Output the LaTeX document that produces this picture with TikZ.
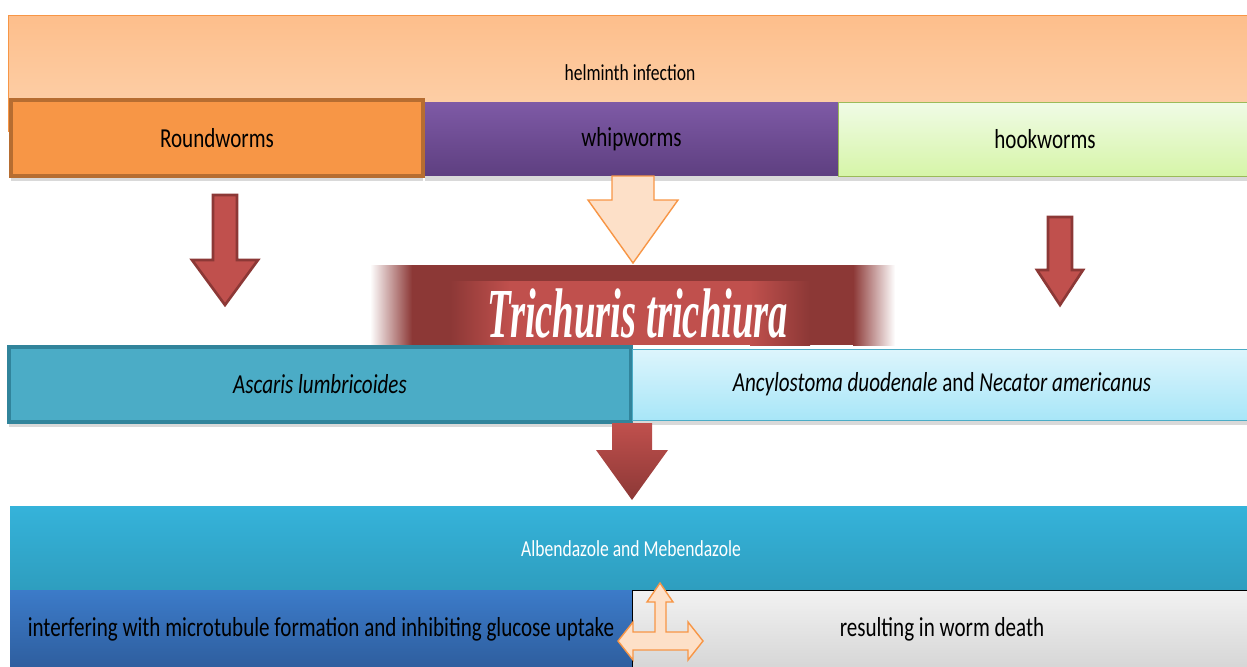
\documentclass[tikz,border=0pt]{standalone}
\usepackage{fontspec}
\setmainfont{Carlito}
\newfontfamily\trfont{Liberation Serif}
\usetikzlibrary{shadows}

\definecolor{peachTop}{HTML}{FDBE8B}
\definecolor{peachBot}{HTML}{FDD3AE}
\definecolor{orangeA}{HTML}{F79646}
\definecolor{orangeD}{HTML}{B66D31}
\definecolor{purpleTop}{HTML}{7E5AA6}
\definecolor{purpleBot}{HTML}{5E3F80}
\definecolor{greenTop}{HTML}{F0FBE6}
\definecolor{greenBot}{HTML}{D6F5A8}
\definecolor{greenD}{HTML}{9BBB59}
\definecolor{redA}{HTML}{C0504D}
\definecolor{redD}{HTML}{8C3836}
\definecolor{peachArr}{HTML}{FDE0C8}
\definecolor{aquaA}{HTML}{4BACC6}
\definecolor{aquaD}{HTML}{31849B}
\definecolor{skyTop}{HTML}{DDF5FC}
\definecolor{skyBot}{HTML}{A8E6F8}
\definecolor{cyanTop}{HTML}{35B3DA}
\definecolor{cyanBot}{HTML}{2E9DBE}
\definecolor{blueTop}{HTML}{3C7BC9}
\definecolor{blueBot}{HTML}{2E5E9E}
\definecolor{grayTop}{HTML}{F2F2F2}
\definecolor{grayBot}{HTML}{D6D6D6}

% 块状箭头: 样式, x, 顶, 箭头起点, 尖, 杆半宽, 头半宽
\newcommand{\blkarrow}[7]{%
  \draw[#1] (#2-#6,#3) -- (#2+#6,#3) -- (#2+#6,#4) -- (#2+#7,#4)
    -- (#2,#5) -- (#2-#7,#4) -- (#2-#6,#4) -- cycle;}
\newcommand{\tall}[1]{\scalebox{1}[1.3]{#1}}

\begin{document}
\begin{tikzpicture}[x=0.02cm,y=-0.02cm,
  box/.style={rectangle, inner sep=0pt, font=\fontsize{12}{14}\selectfont},
  small/.style={font=\fontsize{10}{12}\selectfont},
  shadowed/.style={drop shadow={shadow xshift=0pt, shadow yshift=-3pt, opacity=0.3}}]
\useasboundingbox (0,0) rectangle (1247,666);

% 顶层
\node[box, small, draw=orangeA, top color=peachTop, bottom color=peachBot,
  minimum width=24.88cm, minimum height=2.32cm] (helm) at (630,73) {\tall{helminth infection}};

% 三类蠕虫
\node[box, shadowed, draw=orangeD, line width=2.3pt, fill=orangeA,
  minimum width=8.24cm, minimum height=1.52cm] (round) at (217,138) {\tall{Roundworms}};
\node[box, shadowed, top color=purpleTop, bottom color=purpleBot,
  minimum width=8.26cm, minimum height=1.48cm] (whip) at (631.5,139) {\tall{whipworms}};
\node[box, shadowed, draw=greenD, top color=greenTop, bottom color=greenBot,
  minimum width=8.28cm, minimum height=1.48cm] (hook) at (1045,139) {\tall{hookworms}};

% 箭头
\blkarrow{draw=redD, line width=1.5pt, fill=redA}{225}{195}{260}{305}{12}{33}
\blkarrow{draw=redD, line width=1.5pt, fill=redA}{1060}{217}{270}{305}{12}{23}

% Trichuris 横幅
\fill[left color=white, right color=redD] (370,265) rectangle (412,345);
\fill[redD] (412,265) rectangle (853,345);
\fill[left color=redD, right color=white] (853,265) rectangle (895,345);
\fill[left color=redD, right color=redA] (450,281) rectangle (510,345);
\fill[redA] (510,281) rectangle (750,345);
\fill[left color=redA, right color=redD] (750,281) rectangle (810,345);
\node[text=white, font=\fontsize{40}{40}\trfont\bfseries\itshape] (trich) at (638,314)
  {\scalebox{0.55}[1]{Trichuris trichiura}};

\blkarrow{draw=orangeA, line width=0.8pt, fill=peachArr}{633}{176}{200}{263}{21}{45}

% 种名
\node[box, shadowed, draw=aquaD, line width=2.3pt, fill=aquaA,
  minimum width=12.44cm, minimum height=1.5cm] (ascar) at (320,384.5) {\tall{\itshape Ascaris lumbricoides}};
\node[box, shadowed, draw=aquaA, top color=skyTop, bottom color=skyBot,
  minimum width=12.4cm, minimum height=1.42cm] (ancyl) at (942,384.5)
  {\tall{\itshape Ancylostoma duodenale \upshape and \itshape Necator americanus}};

\blkarrow{top color=redA, bottom color=redD, draw=none}{632}{423}{450}{500}{20}{36}

% 药物
\node[box, small, text=white, top color=cyanTop, bottom color=cyanBot,
  minimum width=24.84cm, minimum height=1.72cm] (albend) at (631,549) {\tall{Albendazole and Mebendazole}};
\node[box, top color=blueTop, bottom color=blueBot,
  minimum width=12.44cm, minimum height=1.56cm] (interf) at (321,629)
  {\tall{interfering with microtubule formation and inhibiting glucose uptake}};
\node[box, draw=black, top color=grayTop, bottom color=grayBot,
  minimum width=12.4cm, minimum height=1.56cm] (result) at (942,629) {\tall{resulting in worm death}};

% T 形箭头
\draw[draw=orangeA, line width=0.8pt, fill=peachArr] (660,583) -- (673,602) -- (666,602) -- (666,632)
  -- (688,632) -- (688,622) -- (703,641) -- (688,660) -- (688,650) -- (633,650)
  -- (633,660) -- (618,641) -- (633,622) -- (633,632) -- (655,632) -- (655,602)
  -- (647,602) -- cycle;
\end{tikzpicture}
\end{document}
